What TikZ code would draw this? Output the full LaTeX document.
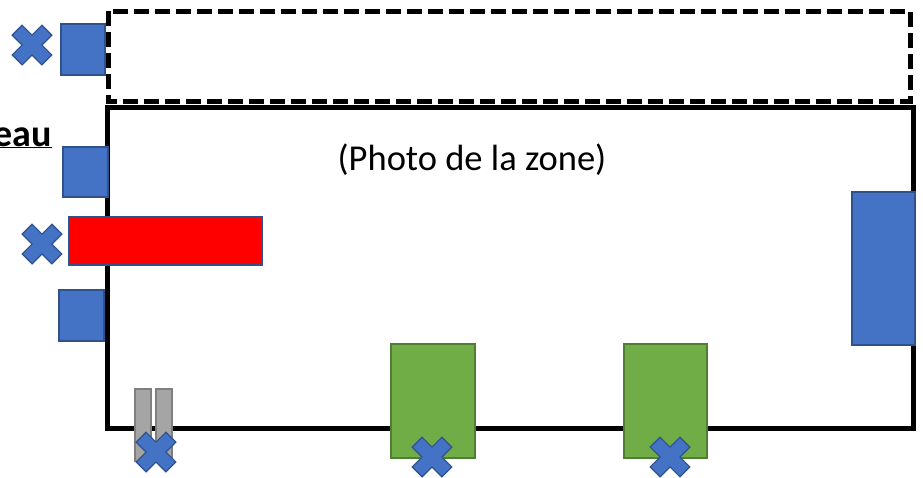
\documentclass[tikz,border=0pt]{standalone}
\usepackage{fontspec}
\setmainfont{Carlito}
\definecolor{oblue}{HTML}{4472C4}
\definecolor{oblueline}{HTML}{2F528F}
\definecolor{ogreen}{HTML}{70AD47}
\definecolor{ogreenline}{HTML}{507E32}
\definecolor{ogray}{HTML}{A5A5A5}
\definecolor{ograyline}{HTML}{7F7F7F}
\tikzset{
  bluebox/.style={fill=oblue, draw=oblueline, line width=1.2pt},
  redbox/.style={fill=red, draw=oblueline, line width=1.2pt},
  greenbox/.style={fill=ogreen, draw=ogreenline, line width=1.5pt},
  graybox/.style={fill=ogray, draw=ograyline, line width=1.2pt},
  zone/.style={draw=black, line width=5pt},
  dashzone/.style={draw=black, line width=5pt, dash pattern=on 15pt off 6pt},
  xmark/.pic={
    \fill[oblue, draw=oblueline, line width=1.2pt, rotate=45]
      (7,7) -- (21,7) -- (21,-7) -- (7,-7) -- (7,-21) -- (-7,-21)
      -- (-7,-7) -- (-21,-7) -- (-21,7) -- (-7,7) -- (-7,21) -- (7,21) -- cycle;
  }
}
\begin{document}
\begin{tikzpicture}[x=1pt,y=-1pt]
\useasboundingbox (0,0) rectangle (923,477);
% zones
\draw[dashzone] (108,11) rectangle (910,101);
\draw[zone] (107,107) rectangle (913,428);
% title text
\node[anchor=base east, font=\fontsize{38}{42}\selectfont\bfseries, inner sep=0pt] (title) at (52,146) {\underline{eau}};
\node[font=\fontsize{36.5}{40}\selectfont, inner sep=0pt] (photo) at (472,160) {(Photo de la zone)};
% left items
\draw[bluebox] (61,24) rectangle (105,75);
\pic at (32,45) {xmark};
\draw[bluebox] (63,147) rectangle (108,197);
\draw[redbox] (69,217) rectangle (262,265);
\pic at (42,244) {xmark};
\draw[bluebox] (59,290) rectangle (104,341);
% right item
\draw[bluebox] (852,192) rectangle (915,345);
% bottom gray posts
\draw[graybox] (135,389) rectangle (151,461);
\draw[graybox] (156,389) rectangle (172,459);
\pic at (156,452) {xmark};
% green items
\draw[greenbox] (391,344) rectangle (475,458);
\pic at (432,457) {xmark};
\draw[greenbox] (624,344) rectangle (707,458);
\pic at (670,457) {xmark};
\end{tikzpicture}
\end{document}
